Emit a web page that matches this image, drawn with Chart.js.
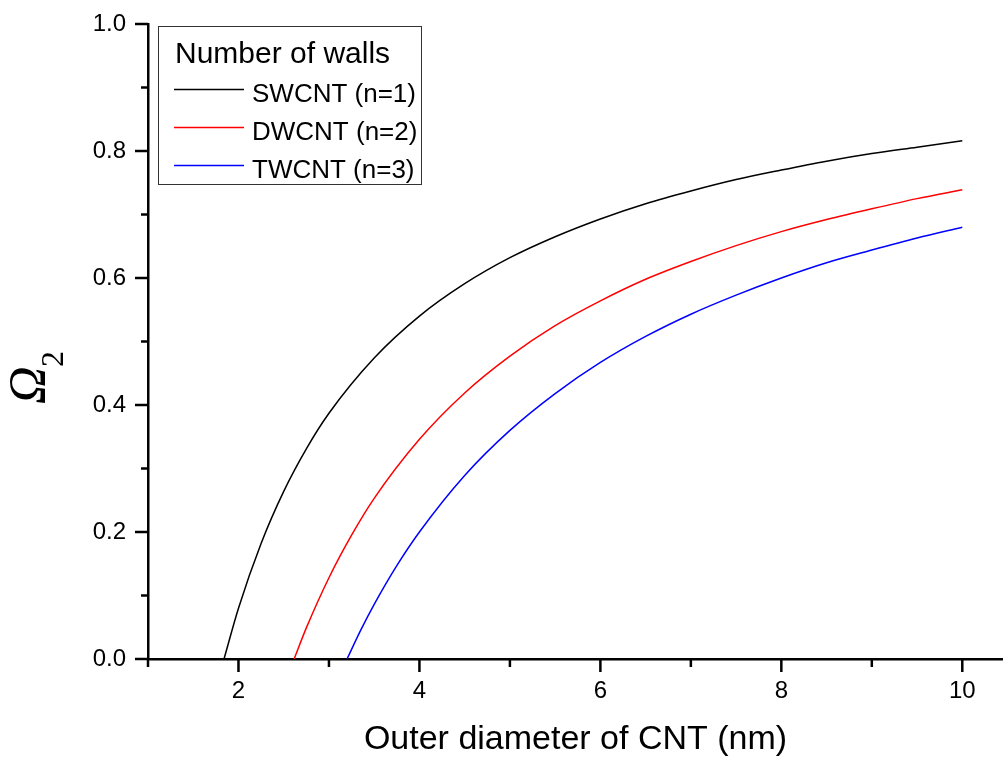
<!DOCTYPE html>
<html>
<head>
<meta charset="utf-8">
<title>Omega 2 vs outer diameter</title>
<script src="https://cdn.jsdelivr.net/npm/chart.js@4.4.1/dist/chart.umd.min.js"></script>
<style>
    html, body {
        margin: 0;
        padding: 0;
        background: #ffffff;
    }
    #wrap {
        width: 1003px;
        height: 763px;
        position: relative;
    }
</style>
</head>
<body>
<div id="wrap">
    <canvas id="omegaChart" width="1003" height="763"></canvas>
</div>
<script>
// outer diameter (nm) and Omega_2 for each wall count
const swcntX = [1.84, 2.0, 2.25, 2.5, 2.75, 3.0, 3.5, 4.0, 4.5, 5.0, 5.5, 6.0, 6.5, 7.0, 7.5, 8.0, 8.5, 9.0, 9.5, 10.0];
const swcntY = [0.0, 0.080, 0.182, 0.264, 0.331, 0.387, 0.474, 0.540, 0.591, 0.632, 0.665, 0.693, 0.717, 0.737, 0.755, 0.770, 0.784, 0.796, 0.806, 0.816];

const dwcntX = [2.615, 2.75, 3.0, 3.25, 3.5, 4.0, 4.5, 5.0, 5.5, 6.0, 6.5, 7.0, 7.5, 8.0, 8.5, 9.0, 9.5, 10.0];
const dwcntY = [0.0, 0.049, 0.128, 0.195, 0.253, 0.346, 0.419, 0.477, 0.525, 0.564, 0.598, 0.626, 0.651, 0.673, 0.692, 0.709, 0.725, 0.739];

const twcntX = [3.2, 3.35, 3.5, 3.75, 4.0, 4.5, 5.0, 5.5, 6.0, 6.5, 7.0, 7.5, 8.0, 8.5, 9.0, 9.5, 10.0];
const twcntY = [0.0, 0.045, 0.086, 0.147, 0.200, 0.289, 0.360, 0.418, 0.467, 0.508, 0.543, 0.573, 0.600, 0.624, 0.644, 0.663, 0.680];

const seriesLabels = ['SWCNT (n=1)', 'DWCNT (n=2)', 'TWCNT (n=3)'];
const seriesColors = ['#000000', '#ff0000', '#0000ff'];
const legendTitle = 'Number of walls';
const xTitle = 'Outer diameter of CNT (nm)';

const SANS = '"Liberation Sans", Arial, sans-serif';
const SERIF = '"Liberation Serif", "Times New Roman", serif';

function toPoints(xs, ys) {
    return xs.map((x, i) => ({ x: x, y: ys[i] }));
}

function makeDataset(index, xs, ys) {
    return {
        label: seriesLabels[index],
        data: toPoints(xs, ys),
        borderColor: seriesColors[index],
        backgroundColor: seriesColors[index],
        borderWidth: 1.5,
        pointRadius: 0,
        fill: false,
        cubicInterpolationMode: 'monotone'
    };
}

// major ticks on even values, short ticks in between
const tickMarks = {
    id: 'tickMarks',
    afterDraw(chart) {
        const ctx = chart.ctx;
        const xs = chart.scales.x;
        const ys = chart.scales.y;

        ctx.save();
        ctx.strokeStyle = '#000000';
        ctx.lineWidth = 2.5;
        ctx.lineCap = 'butt';

        xs.ticks.forEach(t => {
            const px = xs.getPixelForValue(t.value);
            const major = Math.round(t.value) % 2 === 0;
            ctx.beginPath();
            ctx.moveTo(px, xs.top);
            ctx.lineTo(px, xs.top + (major ? 13 : 8));
            ctx.stroke();
        });

        ys.ticks.forEach(t => {
            const py = ys.getPixelForValue(t.value);
            const major = Math.round(t.value * 10) % 2 === 0;
            ctx.beginPath();
            ctx.moveTo(ys.right, py);
            ctx.lineTo(ys.right - (major ? 13 : 7), py);
            ctx.stroke();
        });

        ctx.restore();
    }
};

// rotated Omega with subscript 2
const yTitle = {
    id: 'yTitle',
    afterDraw(chart) {
        const ctx = chart.ctx;
        ctx.save();
        ctx.translate(45, 404);
        ctx.rotate(-Math.PI / 2);
        ctx.fillStyle = '#000000';
        ctx.textBaseline = 'alphabetic';
        ctx.textAlign = 'left';
        ctx.font = 'italic 52px ' + SERIF;
        ctx.fillText('\u03A9', 0, 0);
        ctx.font = '32px ' + SERIF;
        ctx.fillText('2', 37, 18);
        ctx.restore();
    }
};

// boxed legend in the upper left corner
const boxLegend = {
    id: 'boxLegend',
    afterDraw(chart) {
        const ctx = chart.ctx;
        ctx.save();

        ctx.fillStyle = '#ffffff';
        ctx.fillRect(158, 26, 263, 158);
        ctx.strokeStyle = '#333333';
        ctx.lineWidth = 1;
        ctx.strokeRect(158.5, 26.5, 263, 158);

        ctx.fillStyle = '#000000';
        ctx.textBaseline = 'alphabetic';
        ctx.textAlign = 'left';
        ctx.font = '30px ' + SANS;
        ctx.fillText(legendTitle, 175, 63);

        ctx.font = '26px ' + SANS;
        chart.data.datasets.forEach((ds, i) => {
            const base = 101.5 + i * 38;
            ctx.strokeStyle = ds.borderColor;
            ctx.lineWidth = 1.3;
            ctx.beginPath();
            ctx.moveTo(174, base - 12);
            ctx.lineTo(244, base - 12);
            ctx.stroke();
            ctx.fillStyle = '#000000';
            ctx.fillText(ds.label, 252, base);
        });

        ctx.restore();
    }
};

function initOmegaChart() {
    const canvas = document.getElementById('omegaChart');

    if (!canvas) {
        return;
    }

    const ctx = canvas.getContext('2d');

    new Chart(ctx, {
        type: 'line',
        data: {
            datasets: [
                makeDataset(0, swcntX, swcntY),
                makeDataset(1, dwcntX, dwcntY),
                makeDataset(2, twcntX, twcntY)
            ]
        },
        options: {
            responsive: false,
            animation: false,
            layout: {
                padding: { top: 24, right: 0, bottom: 0, left: 0 }
            },
            plugins: {
                legend: { display: false },
                tooltip: { enabled: false }
            },
            scales: {
                x: {
                    type: 'linear',
                    min: 1,
                    max: 10.45,
                    border: { display: true, color: '#000000', width: 2.5 },
                    grid: { display: false, drawTicks: false },
                    ticks: {
                        stepSize: 1,
                        includeBounds: false,
                        autoSkip: false,
                        maxRotation: 0,
                        padding: 18,
                        color: '#000000',
                        font: { family: SANS, size: 24 },
                        callback: v => (v % 2 === 0 ? String(v) : '')
                    },
                    title: {
                        display: true,
                        text: xTitle,
                        color: '#000000',
                        font: { family: SANS, size: 34 },
                        padding: { top: 0, bottom: 3 }
                    },
                    afterFit(scale) {
                        scale.height = 104;
                        scale.paddingLeft = 0;
                        scale.paddingRight = 0;
                    }
                },
                y: {
                    min: 0,
                    max: 1,
                    border: { display: true, color: '#000000', width: 2.5 },
                    grid: { display: false, drawTicks: false },
                    ticks: {
                        stepSize: 0.1,
                        autoSkip: false,
                        padding: 22,
                        color: '#000000',
                        font: { family: SANS, size: 24 },
                        callback: v => (Math.round(v * 10) % 2 === 0 ? v.toFixed(1) : '')
                    },
                    afterFit(scale) {
                        scale.width = 148;
                        scale.paddingTop = 0;
                        scale.paddingBottom = 0;
                    }
                }
            }
        },
        plugins: [tickMarks, yTitle, boxLegend]
    });
}

initOmegaChart();
</script>
</body>
</html>
